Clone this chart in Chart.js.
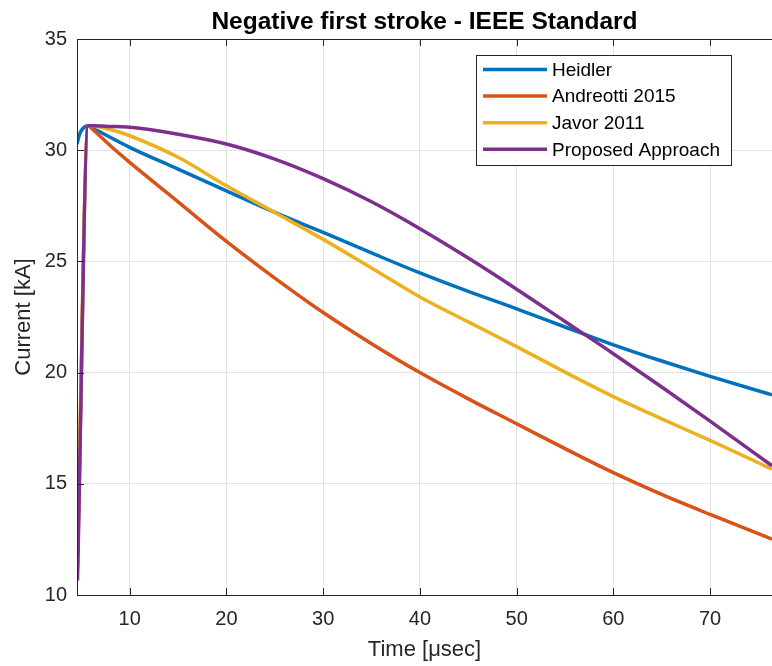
<!DOCTYPE html>
<html>
<head>
<meta charset="utf-8">
<script src="https://cdn.jsdelivr.net/npm/chart.js@4.4.1/dist/chart.umd.min.js"></script>
<style>
  html, body { margin: 0; padding: 0; background: #fff; }
</style>
</head>
<body>
<canvas id="chart" width="772" height="666"></canvas>
<script>
// values (time in microseconds, current in kA)
const heidlerTime = [4.55, 4.8, 5.1, 5.7, 6.2, 10, 15, 20, 25, 30, 35, 40, 45, 50, 55, 60, 65, 70, 76.4];
const heidler     = [30.27, 30.7, 30.95, 31.1, 30.99, 30.13, 29.15, 28.17, 27.2, 26.3, 25.38, 24.48, 23.65, 22.87, 22.05, 21.25, 20.52, 19.83, 19.0];

const waveTime    = [4.6, 5.7, 6.2, 8, 10, 15, 20, 25, 30, 35, 40, 45, 50, 55, 60, 65, 70, 76.4];
const andreotti   = [11.2, 31.1, 30.92, 30.2, 29.45, 27.68, 25.9, 24.25, 22.7, 21.3, 20.0, 18.82, 17.7, 16.58, 15.5, 14.52, 13.62, 12.51];
const javor       = [11.8, 31.1, 31.09, 30.93, 30.65, 29.68, 28.4, 27.2, 25.99, 24.7, 23.4, 22.28, 21.17, 20.02, 18.92, 17.92, 16.95, 15.66];
const proposed    = [10.65, 31.1, 31.1, 31.07, 31.03, 30.72, 30.28, 29.6, 28.72, 27.68, 26.47, 25.15, 23.75, 22.3, 20.85, 19.35, 17.82, 15.81];

const seriesNames  = ['Heidler', 'Andreotti 2015', 'Javor 2011', 'Proposed Approach'];
const seriesColors = ['#0072BD', '#D95319', '#EDB120', '#7E2F8E'];

const xTicks = [10, 20, 30, 40, 50, 60, 70];
const yTicks = [10, 15, 20, 25, 30, 35];

const FONT = "'Liberation Sans', Arial, Helvetica, sans-serif";
const AXIS_COLOR = '#262626';

function toPoints(xs, ys) {
  return xs.map((t, i) => ({ x: t, y: ys[i] }));
}

const seriesData = [
  toPoints(heidlerTime, heidler),
  toPoints(waveTime, andreotti),
  toPoints(waveTime, javor),
  toPoints(waveTime, proposed)
];

// matlab-like box, inward ticks and the legend inside the axes
const matlabFrame = {
  id: 'matlabFrame',
  afterDraw(chart) {
    const { ctx, chartArea: a, scales: { x, y } } = chart;
    ctx.save();
    ctx.strokeStyle = AXIS_COLOR;
    ctx.lineWidth = 1;
    ctx.beginPath();
    xTicks.forEach(v => {
      const px = Math.round(x.getPixelForValue(v)) + 0.5;
      ctx.moveTo(px, a.bottom); ctx.lineTo(px, a.bottom - 7);
      ctx.moveTo(px, a.top); ctx.lineTo(px, a.top + 7);
    });
    yTicks.forEach(v => {
      const py = Math.round(y.getPixelForValue(v)) + 0.5;
      ctx.moveTo(a.left, py); ctx.lineTo(a.left + 7, py);
    });
    ctx.stroke();
    ctx.strokeRect(Math.round(a.left) + 0.5, Math.round(a.top) + 0.5,
                   Math.round(a.right - a.left), Math.round(a.bottom - a.top));

    // legend box
    const lx = 476, ly = 55, lw = 255, lh = 110;
    ctx.fillStyle = '#fff';
    ctx.fillRect(lx, ly, lw, lh);
    ctx.strokeRect(lx + 0.5, ly + 0.5, lw, lh);
    ctx.font = '19px ' + FONT;
    ctx.textBaseline = 'middle';
    chart.data.datasets.forEach((ds, i) => {
      const rowY = 69.5 + i * 26.6;
      ctx.strokeStyle = ds.borderColor;
      ctx.lineWidth = 3.5;
      ctx.beginPath();
      ctx.moveTo(483, rowY); ctx.lineTo(547, rowY);
      ctx.stroke();
      ctx.fillStyle = '#000';
      ctx.fillText(ds.label, 552, rowY + 1);
    });
    ctx.restore();
  }
};

const ctx = document.getElementById('chart').getContext('2d');
const drawOrder = [3, 2, 1, 0]; // purple on top, like matlab

new Chart(ctx, {
  type: 'line',
  data: {
    datasets: seriesNames.map((name, i) => ({
      label: name,
      data: seriesData[i],
      borderColor: seriesColors[i],
      backgroundColor: seriesColors[i],
      borderWidth: 3.5,
      pointRadius: 0,
      fill: false,
      cubicInterpolationMode: 'monotone',
      order: drawOrder[i]
    }))
  },
  options: {
    responsive: false,
    animation: false,
    devicePixelRatio: 1,
    layout: { padding: 0 },
    plugins: {
      legend: { display: false },
      tooltip: { enabled: false },
      title: {
        display: true,
        fullSize: false,
        text: 'Negative first stroke - IEEE Standard',
        color: '#000',
        font: { family: FONT, size: 24.5, weight: 'bold', lineHeight: 1.2 },
        padding: { top: 8, bottom: 1.6 }
      }
    },
    scales: {
      x: {
        type: 'linear',
        min: 4.55,
        max: 76.4,
        afterBuildTicks: s => { s.ticks = xTicks.map(v => ({ value: v })); },
        afterFit: s => { s.height = 71; },
        grid: { color: '#e3e3e3', drawTicks: false },
        border: { display: false },
        ticks: { color: AXIS_COLOR, padding: 12, font: { family: FONT, size: 20 }, maxRotation: 0 },
        title: {
          display: true,
          text: 'Time [μsec]',
          color: AXIS_COLOR,
          font: { family: FONT, size: 22 },
          padding: { top: 0, bottom: 3 }
        }
      },
      y: {
        min: 10,
        max: 35,
        afterBuildTicks: s => { s.ticks = yTicks.map(v => ({ value: v })); },
        afterFit: s => { s.width = 77; },
        grid: { color: '#e3e3e3', drawTicks: false },
        border: { display: false },
        ticks: { color: AXIS_COLOR, padding: 10, font: { family: FONT, size: 20 } },
        title: {
          display: true,
          text: 'Current [kA]',
          color: AXIS_COLOR,
          font: { family: FONT, size: 22 },
          padding: { top: 11, bottom: 0 }
        }
      }
    }
  },
  plugins: [matlabFrame]
});
</script>
</body>
</html>
